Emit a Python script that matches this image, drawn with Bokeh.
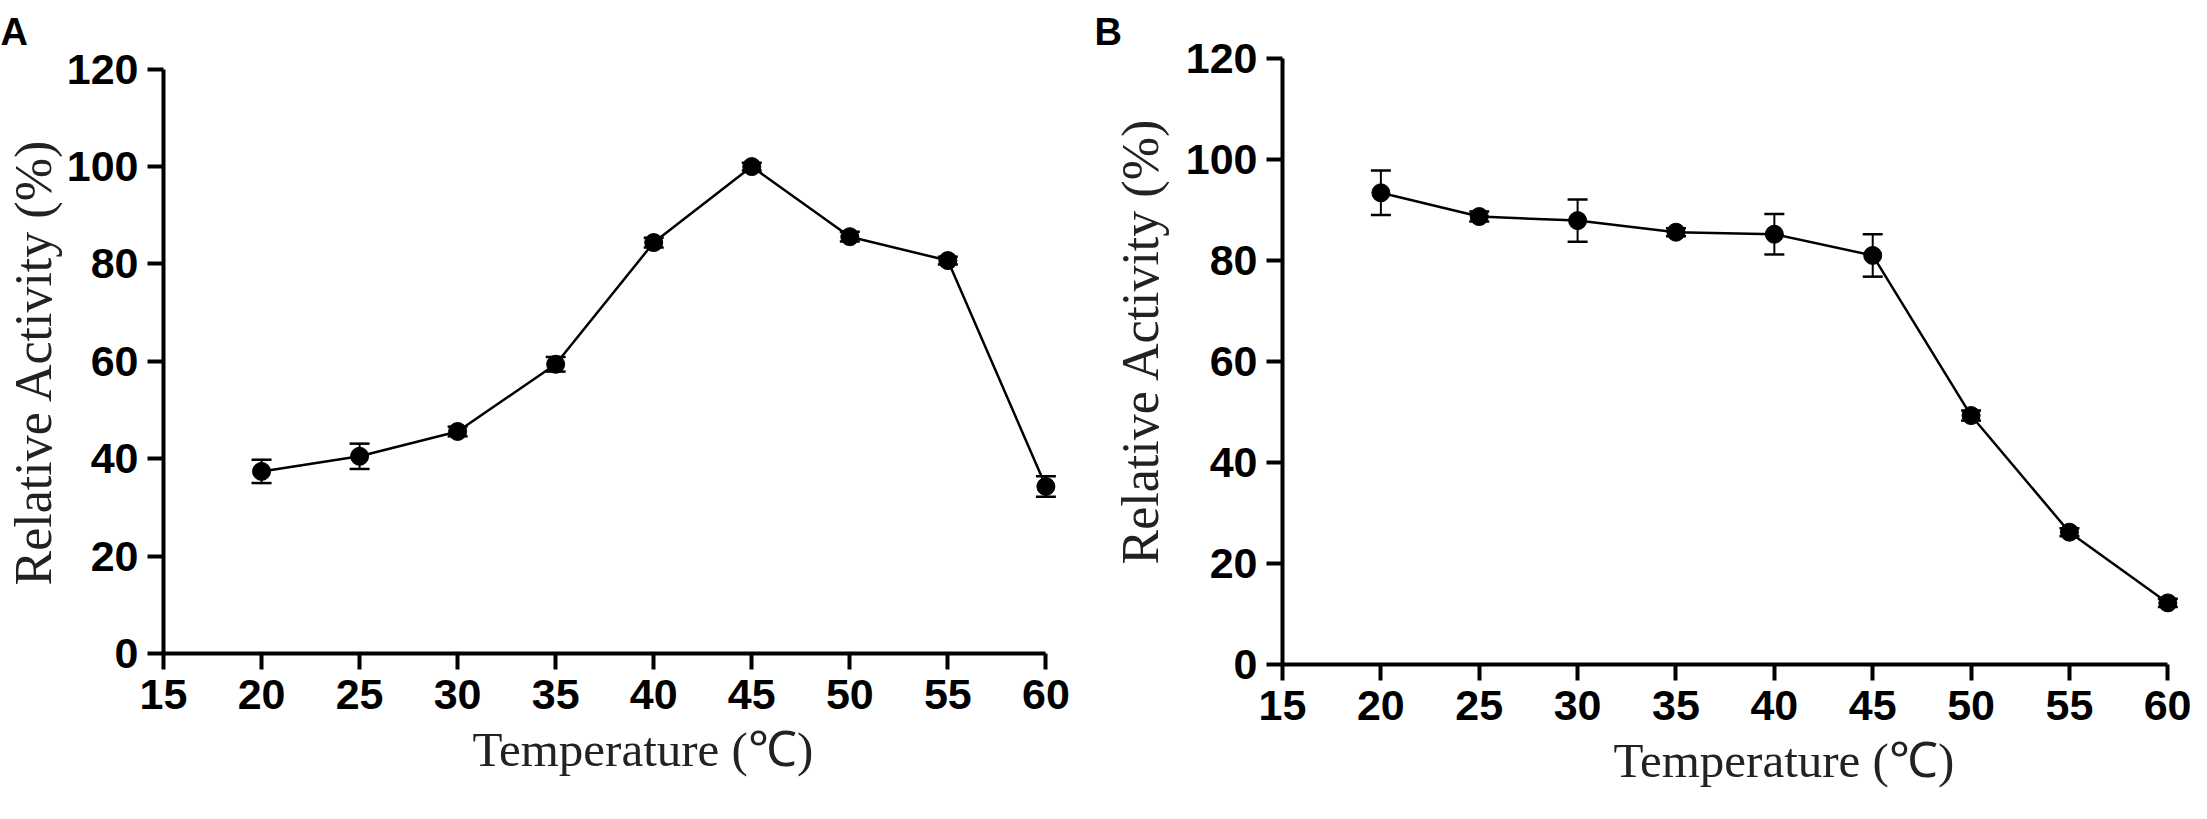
import math
from bokeh.plotting import figure
from bokeh.models import Range1d, FixedTicker, Whisker, ColumnDataSource, TeeHead, Title
from bokeh.layouts import row
from bokeh.embed import file_html
from bokeh.resources import INLINE

# ---- data ----
temps = [20, 25, 30, 35, 40, 45, 50, 55, 60]
act_a = [37.4, 40.5, 45.6, 59.4, 84.4, 100.0, 85.6, 80.7, 34.3]
err_a = [2.4, 2.6, 1.0, 1.5, 1.0, 0.8, 1.0, 0.8, 2.1]
act_b = [93.4, 88.7, 87.9, 85.6, 85.2, 81.0, 49.3, 26.2, 12.2]
err_b = [4.4, 1.0, 4.2, 0.8, 4.0, 4.2, 1.0, 0.8, 0.8]
x_ticks = [15, 20, 25, 30, 35, 40, 45, 50, 55, 60]
y_ticks = [0, 20, 40, 60, 80, 100, 120]
panel_letters = ["A", "B"]
x_title = "Temperature (℃)"
y_title = "Relative Activity (%)"

TICK_FONT = "Liberation Sans"
SERIF = "Liberation Serif"


def make_panel(letter, act, err, fw, fh, y_end, mbl, mbr, mbt, mbb,
               letter_offset, letter_standoff,
               xlab_offset, xlab_standoff, ylab_offset, ylab_standoff):
    p = figure(frame_width=fw, frame_height=fh,
               x_range=Range1d(15, 61), y_range=Range1d(0, y_end),
               min_border_left=mbl, min_border_right=mbr,
               min_border_top=mbt, min_border_bottom=mbb,
               output_backend="svg", toolbar_location=None,
               background_fill_color="white", border_fill_color="white")
    p.outline_line_color = None
    p.grid.grid_line_color = None

    for ax in (p.xaxis[0], p.yaxis[0]):
        ax.axis_line_width = 4
        ax.axis_line_color = "black"
        ax.major_tick_line_width = 4
        ax.major_tick_line_color = "black"
        ax.major_tick_out = 16
        ax.major_tick_in = 0
        ax.minor_tick_line_color = None
        ax.major_label_text_font = TICK_FONT
        ax.major_label_text_font_style = "bold"
        ax.major_label_text_font_size = "43px"
        ax.major_label_text_color = "black"
    p.xaxis.ticker = FixedTicker(ticks=x_ticks)
    p.yaxis.ticker = FixedTicker(ticks=y_ticks)
    p.xaxis.bounds = (15, 60)
    p.yaxis.bounds = (0, 120)
    p.xaxis.major_label_standoff = 10
    p.yaxis.major_label_standoff = 9

    upper = [a + e for a, e in zip(act, err)]
    lower = [a - e for a, e in zip(act, err)]
    src = ColumnDataSource(dict(x=temps, y=act, upper=upper, lower=lower))

    w = Whisker(source=src, base="x", upper="upper", lower="lower",
                line_width=2, line_color="black",
                upper_head=TeeHead(size=20, line_width=2.5, line_color="black"),
                lower_head=TeeHead(size=20, line_width=2.5, line_color="black"))
    p.add_layout(w)
    p.line("x", "y", source=src, line_width=2.5, line_color="black")
    p.scatter("x", "y", source=src, size=18, marker="circle",
              fill_color="black", line_color="black")

    # axis titles as side titles (align "left" so that offset applies)
    p.add_layout(Title(text=y_title, align="left", offset=ylab_offset,
                       text_font=SERIF, text_font_style="normal",
                       text_font_size="52px", text_color="#222222",
                       standoff=ylab_standoff), "left")
    p.add_layout(Title(text=x_title, align="left", offset=xlab_offset,
                       text_font=SERIF, text_font_style="normal",
                       text_font_size="49px", text_color="#222222",
                       standoff=xlab_standoff), "below")
    p.add_layout(Title(text=letter, align="left", offset=letter_offset,
                       text_font=TICK_FONT, text_font_style="bold",
                       text_font_size="38px", text_color="black",
                       standoff=letter_standoff), "above")
    return p


# both panels share the same top/bottom borders (row aligns them); panel A's
# frame is slightly shorter and its range reaches a bit above the 120 bound so
# that its axes sit where the original's do.
pA = make_panel(panel_letters[0], act_a, err_a, 902, 595, 122.2, 163, 27, 58, 139,
                -163, 12, 309, 16, 68, 4)
pB = make_panel(panel_letters[1], act_b, err_b, 905, 606, 120, 190, 4, 58, 139,
                -188, 12, 331, 16, 100, 28)

layout = row(pA, pB)
open("out.html", "w").write(file_html(layout, INLINE))
